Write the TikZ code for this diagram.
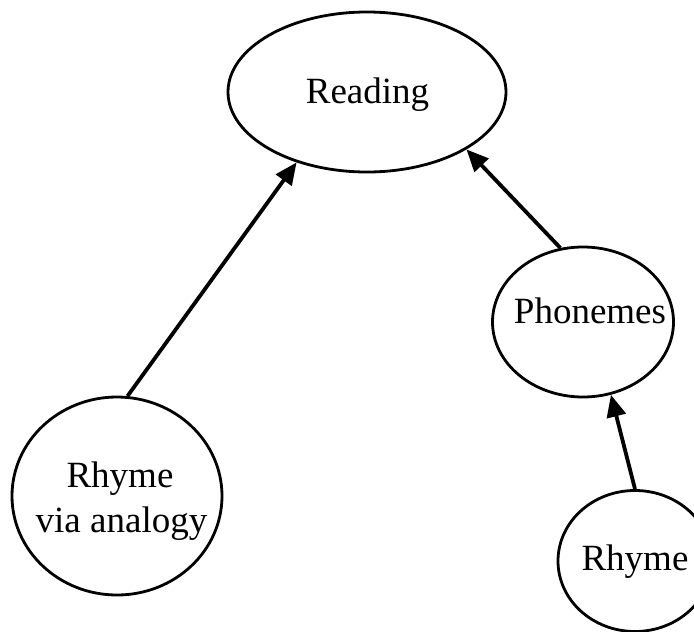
\documentclass[tikz,border=0pt]{standalone}
\usepackage{fontspec}
\setmainfont{Liberation Serif}
\usetikzlibrary{shapes.geometric,arrows.meta}
\tikzset{
  bub/.style={draw=black, line width=2.8pt, ellipse, inner sep=0pt},
  lbl/.style={anchor=base, inner sep=0pt, font=\fontsize{37}{44}\selectfont},
  arr/.style={draw=black, line width=3.8pt, -{Triangle[length=22pt,width=19pt]}, shorten >=0pt}
}
\begin{document}
\begin{tikzpicture}[x=1pt,y=-1pt]
\useasboundingbox (0,0) rectangle (694,632);
\clip (0,0) rectangle (694,632);
\fill[white] (0,0) rectangle (694,632);
% shapes
\node[bub, minimum width=278pt, minimum height=160pt] (read) at (367,92) {};
\node[bub, minimum width=181pt, minimum height=150pt] (phon) at (583,322) {};
\node[bub, minimum width=210pt, minimum height=198pt] (rva) at (117,496) {};
\node[bub, minimum width=154pt, minimum height=141pt] (rhy) at (635,561) {};
% labels
\node[lbl] (treading) at (367.5,103) {Reading};
\node[lbl] (tphon) at (590,323) {Phonemes};
\node[lbl] (trva1) at (120,487) {Rhyme};
\node[lbl] (trva2) at (121.5,532) {via analogy};
\node[lbl] (trhy) at (635,570) {Rhyme};
% connectors
\draw[arr] (rva.84) -- (read.-135);
\draw[arr] (phon.107) -- (read.-30);
\draw[arr] (rhy.90) -- (phon.-69);
\end{tikzpicture}
\end{document}
